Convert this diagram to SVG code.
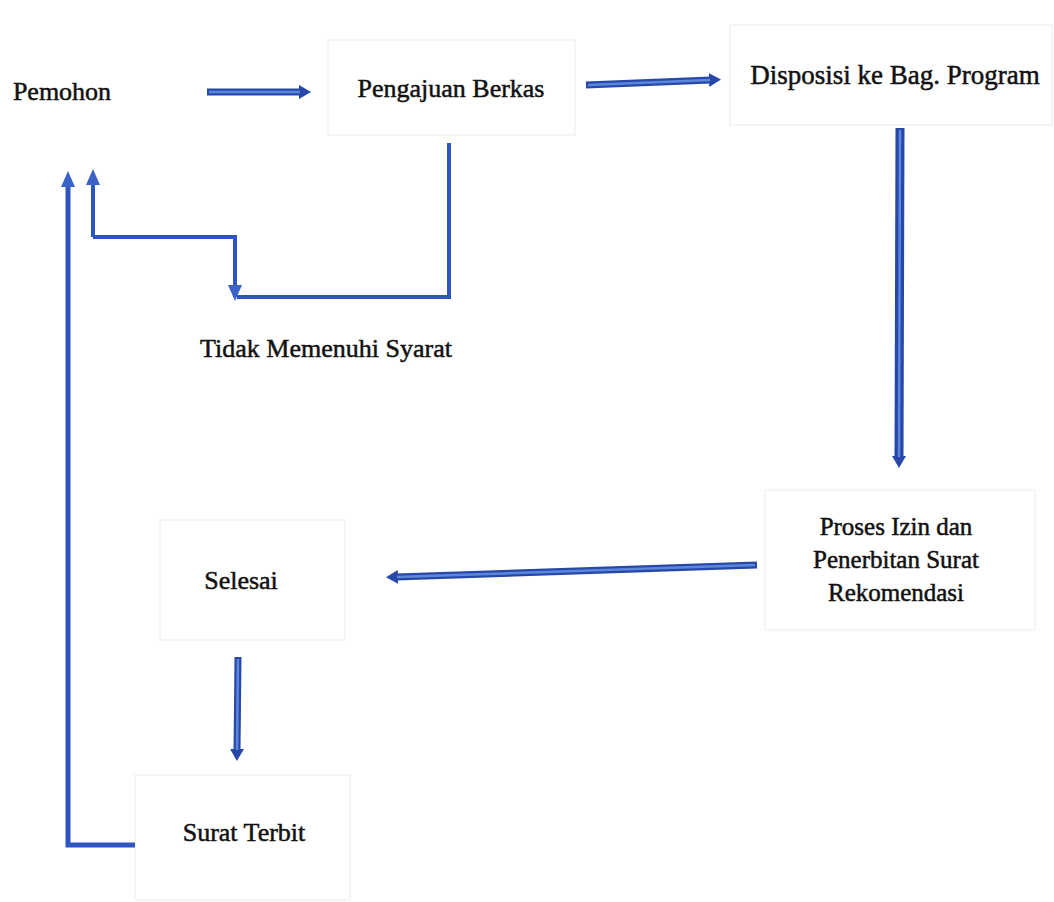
<svg xmlns="http://www.w3.org/2000/svg" width="1054" height="902" viewBox="0 0 1054 902">
<style>
.box{fill:#ffffff;stroke:#f2f2f2;stroke-width:1.5}
.lbl{font-family:"Liberation Serif","Times New Roman",serif;font-size:26px;fill:#111;stroke:#111;stroke-width:0.5;text-anchor:middle}
.thick{fill:none;stroke:#2748a8;stroke-width:7;stroke-linecap:butt}
.thickin{fill:none;stroke:#5a86dc;stroke-width:2.5}
.thin{fill:none;stroke:#2d55c0;stroke-width:4;stroke-linejoin:miter}
</style>
<defs>
<marker id="ah" markerUnits="userSpaceOnUse" markerWidth="14" markerHeight="16" refX="2" refY="8" orient="auto">
<path d="M0,1 L12,8 L0,15 Z" fill="#2748a8"/>
</marker>
<marker id="ahThin" markerUnits="userSpaceOnUse" markerWidth="18" markerHeight="16" refX="2" refY="8" orient="auto">
<path d="M0,1 L16,8 L0,15 Z" fill="#3a62c8"/>
</marker>
</defs>
<rect width="1054" height="902" fill="#ffffff"/>

<g id="pemohon">
<text class="lbl" x="62" y="100" style="font-size:26px">Pemohon</text>
</g>
<g id="pengajuan">
<rect class="box" x="328" y="40" width="247" height="95"/>
<text class="lbl" x="451" y="97" style="font-size:26px">Pengajuan Berkas</text>
</g>
<g id="disposisi">
<rect class="box" x="730" y="25" width="322" height="100"/>
<text class="lbl" x="895" y="84" style="font-size:27px">Disposisi ke Bag. Program</text>
</g>
<g id="tidak">
<text class="lbl" x="326" y="357">Tidak Memenuhi Syarat</text>
</g>
<g id="proses">
<rect class="box" x="765" y="490" width="270" height="140"/>
<text class="lbl" x="896" y="535" style="font-size:25px">Proses Izin dan</text>
<text class="lbl" x="896" y="568" style="font-size:25px">Penerbitan Surat</text>
<text class="lbl" x="896" y="601" style="font-size:25px">Rekomendasi</text>
</g>
<g id="selesai">
<rect class="box" x="160" y="520" width="185" height="120"/>
<text class="lbl" x="241" y="589">Selesai</text>
</g>
<g id="surat">
<rect class="box" x="135" y="775" width="215" height="125"/>
<text class="lbl" x="244" y="841">Surat Terbit</text>
</g>

<g id="connectors">
<line class="thick" x1="207" y1="92" x2="301" y2="92" marker-end="url(#ah)"/>
<line class="thickin" x1="209" y1="92" x2="300" y2="92"/>
<line class="thick" x1="586" y1="85" x2="711" y2="80" marker-end="url(#ah)"/>
<line class="thickin" x1="588" y1="85" x2="710" y2="80"/>
<line class="thick" x1="900" y1="128" x2="899" y2="458" style="stroke-width:9" marker-end="url(#ah)"/>
<line class="thickin" x1="900" y1="130" x2="899" y2="457"/>
<line class="thick" x1="757" y1="565" x2="396" y2="577" marker-end="url(#ah)"/>
<line class="thickin" x1="755" y1="565" x2="397" y2="577"/>
<line class="thick" x1="238" y1="657" x2="237" y2="751" marker-end="url(#ah)"/>
<line class="thickin" x1="238" y1="659" x2="237" y2="750"/>
<path class="thin" d="M449,143 V297 H237"/>
<path class="thin" d="M93,237 H235 V287" marker-end="url(#ahThin)"/>
<path class="thin" d="M93,237 V183" marker-end="url(#ahThin)"/>
<path class="thin" d="M135,845 H68 V185" style="stroke-width:5" marker-end="url(#ahThin)"/>
</g>
</svg>
